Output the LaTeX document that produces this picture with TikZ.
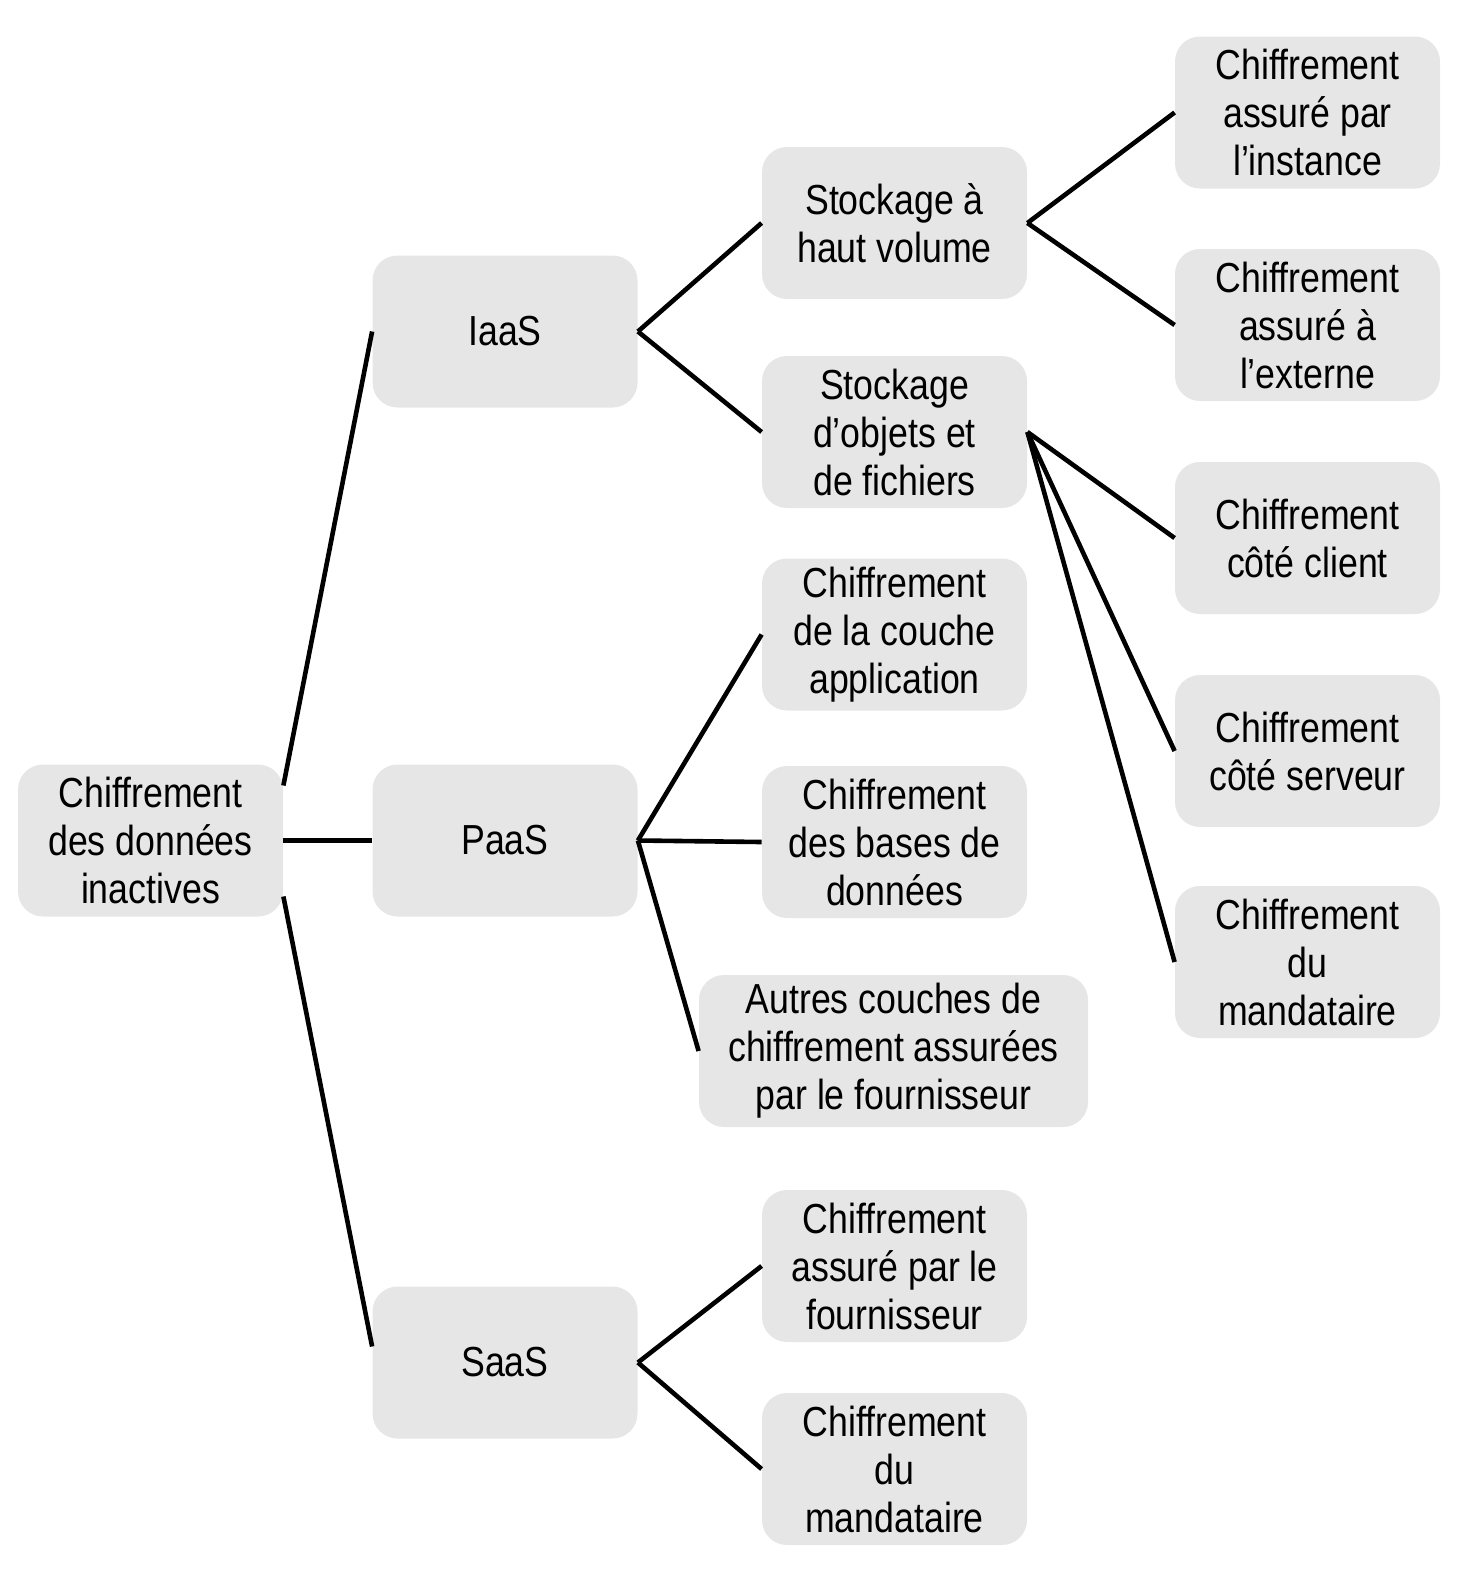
\documentclass[tikz,border=0pt]{standalone}
\usepackage{fontspec}
\setmainfont[FakeStretch=0.85]{Liberation Sans}
\definecolor{boxgray}{HTML}{E6E6E6}
\begin{document}
\begin{tikzpicture}[x=0.5pt,y=-0.5pt,
  box/.style={fill=boxgray, rounded corners=12.5pt, minimum width=132.5pt, minimum height=76pt,
    align=center, inner sep=0pt, font=\fontsize{21}{24}\selectfont},
  wide/.style={box, minimum width=194.5pt},
  link/.style={line width=2.3pt, black}]
\useasboundingbox (0,0) rectangle (1458,1575);
\node[box] (root) at (150.5,840.5) {Chiffrement\\des données\\inactives};
\node[box] (iaas) at (505,331.5) {IaaS};
\node[box] (paas) at (505,840.5) {PaaS};
\node[box] (saas) at (505,1362.5) {SaaS};
\node[box] (haut) at (894.5,223) {Stockage à\\haut volume};
\node[box] (obj) at (894.5,432) {Stockage\\d’objets et\\de fichiers};
\node[box] (app) at (894.5,634.5) {Chiffrement\\de la couche\\application};
\node[box] (bdd) at (894.5,842) {Chiffrement\\des bases de\\données};
\node[wide] (autres) at (893.5,1051) {Autres couches de\\chiffrement assurées\\par le fournisseur};
\node[box] (four) at (894.5,1266) {Chiffrement\\assuré par le\\fournisseur};
\node[box] (mand) at (894.5,1469) {Chiffrement\\du\\mandataire};
\node[box] (inst) at (1307.5,112.5) {Chiffrement\\assuré par\\l’instance};
\node[box] (ext) at (1307.5,325) {Chiffrement\\assuré à\\l’externe};
\node[box] (client) at (1307.5,538) {Chiffrement\\côté client};
\node[box] (serv) at (1307.5,751) {Chiffrement\\côté serveur};
\node[box] (mand2) at (1307.5,962) {Chiffrement\\du\\mandataire};
% connectors
\draw[link] ([yshift=27.5pt]root.east) -- (iaas.west);
\draw[link] (root.east) -- (paas.west);
\draw[link] ([yshift=-28pt]root.east) -- ([yshift=8pt]saas.west);
\draw[link] (iaas.east) -- (haut.west);
\draw[link] (iaas.east) -- (obj.west);
\draw[link] (haut.east) -- (inst.west);
\draw[link] (haut.east) -- (ext.west);
\draw[link] (obj.east) -- (client.west);
\draw[link] (obj.east) -- (serv.west);
\draw[link] (obj.east) -- (mand2.west);
\draw[link] (paas.east) -- (app.west);
\draw[link] (paas.east) -- (bdd.west);
\draw[link] (paas.east) -- (autres.west);
\draw[link] (saas.east) -- (four.west);
\draw[link] (saas.east) -- (mand.west);
\end{tikzpicture}
\end{document}
